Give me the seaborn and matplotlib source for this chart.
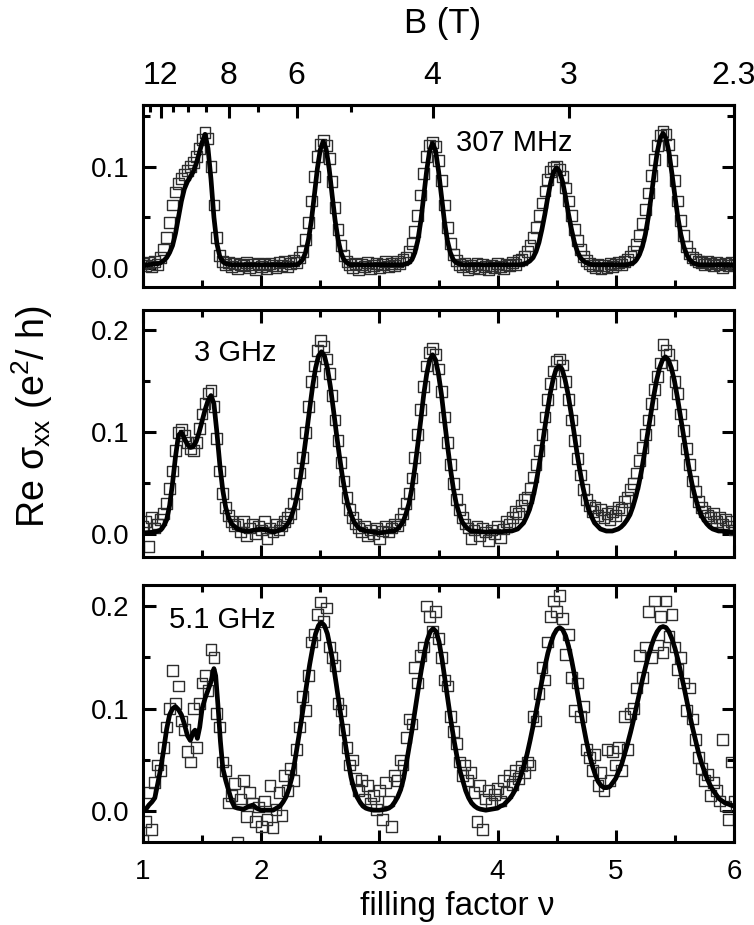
import numpy as np
import matplotlib
matplotlib.use("Agg")
import matplotlib.pyplot as plt
from matplotlib.ticker import MultipleLocator, FormatStrFormatter
import seaborn as sns

# filling factor of the measured points (same grid for the three frequencies)
nu_data = [
    1.000, 1.025, 1.050, 1.075, 1.100, 1.125, 1.150, 1.175, 1.200, 1.225,
    1.250, 1.275, 1.300, 1.325, 1.350, 1.375, 1.400, 1.425, 1.450, 1.475,
    1.500, 1.525, 1.550, 1.575, 1.600, 1.625, 1.650, 1.675, 1.700, 1.725,
    1.750, 1.775, 1.800, 1.825, 1.850, 1.875, 1.900, 1.925, 1.950, 1.975,
    2.000, 2.025, 2.050, 2.075, 2.100, 2.125, 2.150, 2.175, 2.200, 2.225,
    2.250, 2.275, 2.300, 2.325, 2.350, 2.375, 2.400, 2.425, 2.450, 2.475,
    2.500, 2.525, 2.550, 2.575, 2.600, 2.625, 2.650, 2.675, 2.700, 2.725,
    2.750, 2.775, 2.800, 2.825, 2.850, 2.875, 2.900, 2.925, 2.950, 2.975,
    3.000, 3.025, 3.050, 3.075, 3.100, 3.125, 3.150, 3.175, 3.200, 3.225,
    3.250, 3.275, 3.300, 3.325, 3.350, 3.375, 3.400, 3.425, 3.450, 3.475,
    3.500, 3.525, 3.550, 3.575, 3.600, 3.625, 3.650, 3.675, 3.700, 3.725,
    3.750, 3.775, 3.800, 3.825, 3.850, 3.875, 3.900, 3.925, 3.950, 3.975,
    4.000, 4.025, 4.050, 4.075, 4.100, 4.125, 4.150, 4.175, 4.200, 4.225,
    4.250, 4.275, 4.300, 4.325, 4.350, 4.375, 4.400, 4.425, 4.450, 4.475,
    4.500, 4.525, 4.550, 4.575, 4.600, 4.625, 4.650, 4.675, 4.700, 4.725,
    4.750, 4.775, 4.800, 4.825, 4.850, 4.875, 4.900, 4.925, 4.950, 4.975,
    5.000, 5.025, 5.050, 5.075, 5.100, 5.125, 5.150, 5.175, 5.200, 5.225,
    5.250, 5.275, 5.300, 5.325, 5.350, 5.375, 5.400, 5.425, 5.450, 5.475,
    5.500, 5.525, 5.550, 5.575, 5.600, 5.625, 5.650, 5.675, 5.700, 5.725,
    5.750, 5.775, 5.800, 5.825, 5.850, 5.875, 5.900, 5.925, 5.950, 5.975,
    6.000,
]

# Re sigma_xx (e^2/h), measured
sigma_307mhz = [
    0.004, 0.002, 0.005, 0.001, 0.006, 0.003, 0.010, 0.018, 0.030, 0.045,
    0.062, 0.075, 0.083, 0.088, 0.092, 0.096, 0.100, 0.104, 0.110, 0.118,
    0.127, 0.134, 0.128, 0.100, 0.062, 0.030, 0.012, 0.006, 0.003, 0.005,
    0.001, 0.004, -0.001, 0.003, 0.002, 0.005, 0.000, 0.003, -0.002, 0.004,
    0.001, 0.003, -0.001, 0.004, 0.002, 0.000, 0.005, 0.002, 0.006, 0.001,
    0.004, 0.007, 0.005, 0.010, 0.016, 0.028, 0.045, 0.066, 0.090, 0.110,
    0.122, 0.126, 0.121, 0.108, 0.085, 0.060, 0.038, 0.022, 0.012, 0.006,
    0.003, 0.000, 0.004, -0.002, 0.003, 0.001, 0.005, -0.001, 0.002, 0.004,
    0.000, 0.003, 0.006, 0.001, 0.004, 0.002, 0.006, 0.004, 0.008, 0.010,
    0.016, 0.024, 0.036, 0.052, 0.072, 0.093, 0.110, 0.121, 0.124, 0.120,
    0.106, 0.086, 0.062, 0.040, 0.024, 0.013, 0.007, 0.003, 0.001, 0.004,
    -0.002, 0.002, 0.000, 0.004, -0.001, 0.003, 0.001, -0.002, 0.002, 0.000,
    0.004, 0.001, -0.001, 0.003, 0.002, 0.005, 0.003, 0.007, 0.008, 0.011,
    0.016, 0.022, 0.030, 0.040, 0.052, 0.064, 0.076, 0.087, 0.095, 0.099,
    0.100, 0.097, 0.090, 0.079, 0.066, 0.052, 0.038, 0.027, 0.018, 0.011,
    0.007, 0.004, 0.002, 0.000, 0.003, -0.001, 0.002, 0.000, 0.004, 0.001,
    0.003, 0.005, 0.003, 0.006, 0.008, 0.011, 0.016, 0.023, 0.032, 0.044,
    0.058, 0.074, 0.091, 0.107, 0.121, 0.131, 0.135, 0.132, 0.122, 0.106,
    0.086, 0.066, 0.047, 0.032, 0.021, 0.014, 0.010, 0.008, 0.006, 0.005,
    0.003, 0.006, 0.004, 0.002, 0.005, 0.003, 0.000, 0.004, 0.002, 0.005,
    0.003,
]

sigma_3ghz = [
    0.008, 0.012, -0.012, 0.016, 0.006, 0.010, 0.014, 0.020, 0.030, 0.045,
    0.062, 0.082, 0.100, 0.103, 0.097, 0.090, 0.084, 0.082, 0.090, 0.104,
    0.118, 0.128, 0.138, 0.141, 0.125, 0.094, 0.062, 0.040, 0.026, 0.018,
    0.012, 0.008, 0.010, 0.002, 0.012, -0.002, 0.006, 0.010, 0.000, 0.008,
    0.004, 0.012, -0.004, 0.006, 0.002, 0.010, 0.004, 0.008, 0.012, 0.016,
    0.020, 0.030, 0.040, 0.060, 0.075, 0.100, 0.125, 0.150, 0.165, 0.180,
    0.190, 0.184, 0.172, 0.158, 0.136, 0.112, 0.092, 0.070, 0.052, 0.036,
    0.024, 0.016, 0.010, 0.006, 0.002, 0.008, -0.002, 0.004, 0.000, 0.006,
    -0.004, 0.003, 0.008, 0.002, 0.006, 0.010, 0.008, 0.014, 0.020, 0.030,
    0.040, 0.055, 0.075, 0.098, 0.122, 0.145, 0.165, 0.178, 0.182, 0.176,
    0.162, 0.140, 0.115, 0.090, 0.068, 0.050, 0.034, 0.024, 0.016, 0.010,
    0.006, -0.004, 0.004, 0.008, -0.002, 0.006, 0.002, -0.006, 0.004, 0.000,
    0.008, -0.003, 0.005, 0.012, 0.010, 0.016, 0.022, 0.020, 0.028, 0.034,
    0.036, 0.045, 0.056, 0.068, 0.082, 0.098, 0.115, 0.132, 0.148, 0.160,
    0.170, 0.172, 0.166, 0.150, 0.132, 0.112, 0.092, 0.074, 0.058, 0.044,
    0.034, 0.028, 0.022, 0.026, 0.018, 0.024, 0.016, 0.020, 0.014, 0.022,
    0.018, 0.026, 0.024, 0.032, 0.036, 0.044, 0.050, 0.060, 0.072, 0.085,
    0.098, 0.112, 0.128, 0.142, 0.155, 0.168, 0.186, 0.180, 0.176, 0.166,
    0.150, 0.138, 0.118, 0.102, 0.084, 0.068, 0.052, 0.042, 0.032, 0.026,
    0.022, 0.018, 0.016, 0.020, 0.012, 0.016, 0.010, 0.014, 0.008, 0.012,
    0.004,
]

sigma_51ghz = [
    -0.028, -0.010, 0.018, -0.018, 0.028, 0.045, 0.040, 0.062, 0.082, 0.100,
    0.137, 0.105, 0.122, 0.088, 0.080, 0.058, 0.048, 0.100, 0.062, 0.105,
    0.125, 0.132, 0.118, 0.158, 0.150, 0.095, 0.082, 0.048, 0.040, 0.008,
    0.015, 0.027, -0.030, 0.012, 0.030, -0.005, 0.018, 0.008, -0.010, 0.004,
    -0.015, 0.010, -0.008, 0.025, -0.016, 0.002, 0.018, -0.004, 0.035, 0.020,
    0.042, 0.030, 0.060, 0.082, 0.112, 0.098, 0.132, 0.165, 0.172, 0.192,
    0.204, 0.185, 0.198, 0.160, 0.150, 0.142, 0.105, 0.098, 0.080, 0.062,
    0.045, 0.050, 0.032, 0.020, 0.030, 0.012, 0.025, 0.008, 0.015, 0.002,
    0.020, -0.008, 0.028, 0.010, -0.015, 0.035, 0.030, 0.050, 0.045, 0.072,
    0.090, 0.085, 0.140, 0.125, 0.152, 0.160, 0.200, 0.190, 0.175, 0.195,
    0.168, 0.150, 0.128, 0.122, 0.092, 0.078, 0.066, 0.048, 0.035, 0.045,
    0.030, 0.038, 0.018, -0.010, 0.025, -0.018, 0.012, 0.020, 0.008, 0.016,
    0.022, 0.010, 0.030, 0.018, 0.035, 0.026, 0.040, 0.032, 0.044, 0.038,
    0.048, 0.045, 0.092, 0.088, 0.115, 0.140, 0.128, 0.165, 0.190, 0.205,
    0.195, 0.210, 0.188, 0.153, 0.172, 0.130, 0.098, 0.125, 0.092, 0.102,
    0.060, 0.052, 0.040, 0.055, 0.025, 0.038, 0.020, 0.060, 0.030, 0.058,
    0.045, 0.062, 0.040, 0.092, 0.060, 0.095, 0.100, 0.120, 0.152, 0.130,
    0.160, 0.195, 0.150, 0.205, 0.162, 0.190, 0.155, 0.205, 0.170, 0.192,
    0.160, 0.138, 0.150, 0.125, 0.098, 0.120, 0.090, 0.070, 0.052, 0.042,
    0.030, 0.036, 0.015, 0.028, 0.020, 0.010, 0.070, 0.005, -0.008, 0.048,
    0.010,
]

# fitted curves, (nu, Re sigma_xx) points
fit_307mhz = [
    (1.000, 0.003), (1.050, 0.003), (1.100, 0.004), (1.125, 0.004), (1.150, 0.005),
    (1.175, 0.007), (1.200, 0.010), (1.225, 0.015), (1.250, 0.022), (1.275, 0.034),
    (1.300, 0.050), (1.325, 0.066), (1.350, 0.078), (1.375, 0.085), (1.400, 0.090),
    (1.425, 0.095), (1.450, 0.103), (1.475, 0.113), (1.500, 0.124), (1.525, 0.132),
    (1.550, 0.118), (1.575, 0.088), (1.600, 0.050), (1.625, 0.024), (1.650, 0.011),
    (1.675, 0.006), (1.700, 0.004), (1.750, 0.003), (1.900, 0.003), (2.100, 0.003),
    (2.300, 0.003), (2.325, 0.005), (2.350, 0.008), (2.375, 0.015), (2.400, 0.028),
    (2.425, 0.047), (2.450, 0.072), (2.475, 0.098), (2.500, 0.117), (2.525, 0.125),
    (2.550, 0.117), (2.575, 0.098), (2.600, 0.072), (2.625, 0.047), (2.650, 0.028),
    (2.675, 0.015), (2.700, 0.008), (2.725, 0.005), (2.750, 0.003), (3.000, 0.003),
    (3.200, 0.003), (3.225, 0.004), (3.250, 0.005), (3.275, 0.008), (3.300, 0.015),
    (3.325, 0.027), (3.350, 0.046), (3.375, 0.071), (3.400, 0.096), (3.425, 0.116),
    (3.450, 0.123), (3.475, 0.116), (3.500, 0.096), (3.525, 0.071), (3.550, 0.046),
    (3.575, 0.027), (3.600, 0.015), (3.625, 0.008), (3.650, 0.005), (3.675, 0.004),
    (3.700, 0.003), (4.000, 0.003), (4.200, 0.003), (4.225, 0.004), (4.250, 0.005),
    (4.275, 0.007), (4.300, 0.010), (4.325, 0.016), (4.350, 0.025), (4.375, 0.038),
    (4.400, 0.053), (4.425, 0.070), (4.450, 0.085), (4.475, 0.095), (4.500, 0.099),
    (4.525, 0.095), (4.550, 0.085), (4.575, 0.070), (4.600, 0.053), (4.625, 0.038),
    (4.650, 0.025), (4.675, 0.016), (4.700, 0.010), (4.725, 0.007), (4.750, 0.005),
    (4.775, 0.004), (4.800, 0.003), (5.000, 0.003), (5.100, 0.003), (5.125, 0.004),
    (5.150, 0.005), (5.175, 0.008), (5.200, 0.013), (5.225, 0.021), (5.250, 0.033),
    (5.275, 0.050), (5.300, 0.071), (5.325, 0.093), (5.350, 0.114), (5.375, 0.128),
    (5.400, 0.133), (5.425, 0.128), (5.450, 0.114), (5.475, 0.093), (5.500, 0.071),
    (5.525, 0.050), (5.550, 0.033), (5.575, 0.021), (5.600, 0.013), (5.625, 0.008),
    (5.650, 0.005), (5.675, 0.004), (5.700, 0.003), (6.000, 0.003),
]

fit_3ghz = [
    (1.000, 0.001), (1.100, 0.002), (1.150, 0.004), (1.175, 0.008), (1.200, 0.014),
    (1.225, 0.028), (1.250, 0.050), (1.275, 0.076), (1.300, 0.097), (1.325, 0.100),
    (1.350, 0.094), (1.375, 0.088), (1.400, 0.085), (1.425, 0.086), (1.450, 0.091),
    (1.475, 0.100), (1.500, 0.111), (1.525, 0.122), (1.550, 0.131), (1.575, 0.136),
    (1.600, 0.128), (1.625, 0.100), (1.650, 0.068), (1.675, 0.043), (1.700, 0.026),
    (1.725, 0.016), (1.750, 0.010), (1.800, 0.005), (1.850, 0.003), (1.900, 0.003),
    (1.950, 0.004), (2.000, 0.005), (2.050, 0.004), (2.100, 0.002), (2.135, 0.003),
    (2.160, 0.004), (2.185, 0.005), (2.210, 0.008), (2.235, 0.012), (2.260, 0.019),
    (2.285, 0.028), (2.310, 0.041), (2.335, 0.058), (2.360, 0.078), (2.385, 0.100),
    (2.410, 0.123), (2.435, 0.145), (2.460, 0.163), (2.485, 0.175), (2.510, 0.179),
    (2.535, 0.175), (2.560, 0.163), (2.585, 0.145), (2.610, 0.123), (2.635, 0.100),
    (2.660, 0.078), (2.685, 0.058), (2.710, 0.041), (2.735, 0.028), (2.760, 0.019),
    (2.785, 0.012), (2.810, 0.008), (2.835, 0.005), (2.860, 0.004), (2.885, 0.003),
    (2.950, 0.002), (3.000, 0.001), (3.050, 0.002), (3.100, 0.003), (3.125, 0.003),
    (3.150, 0.005), (3.175, 0.008), (3.200, 0.012), (3.225, 0.020), (3.250, 0.030),
    (3.275, 0.045), (3.300, 0.065), (3.325, 0.088), (3.350, 0.112), (3.375, 0.137),
    (3.400, 0.157), (3.425, 0.171), (3.450, 0.176), (3.475, 0.171), (3.500, 0.157),
    (3.525, 0.137), (3.550, 0.112), (3.575, 0.088), (3.600, 0.065), (3.625, 0.045),
    (3.650, 0.030), (3.675, 0.020), (3.700, 0.012), (3.725, 0.008), (3.750, 0.005),
    (3.775, 0.003), (3.800, 0.003), (3.900, 0.002), (4.000, 0.002), (4.100, 0.003),
    (4.120, 0.003), (4.145, 0.004), (4.170, 0.005), (4.195, 0.008), (4.220, 0.011),
    (4.245, 0.017), (4.270, 0.024), (4.295, 0.034), (4.320, 0.047), (4.345, 0.063),
    (4.370, 0.081), (4.395, 0.101), (4.420, 0.120), (4.445, 0.138), (4.470, 0.152),
    (4.495, 0.162), (4.520, 0.165), (4.545, 0.162), (4.570, 0.152), (4.595, 0.138),
    (4.620, 0.120), (4.645, 0.101), (4.670, 0.081), (4.695, 0.063), (4.720, 0.047),
    (4.745, 0.034), (4.770, 0.024), (4.795, 0.017), (4.820, 0.011), (4.845, 0.008),
    (4.870, 0.005), (4.895, 0.004), (4.920, 0.003), (4.945, 0.003), (4.970, 0.003),
    (4.995, 0.004), (5.020, 0.005), (5.045, 0.007), (5.070, 0.010), (5.095, 0.014),
    (5.120, 0.019), (5.145, 0.027), (5.170, 0.037), (5.195, 0.049), (5.220, 0.064),
    (5.245, 0.081), (5.270, 0.099), (5.295, 0.117), (5.320, 0.135), (5.345, 0.151),
    (5.370, 0.163), (5.395, 0.171), (5.420, 0.174), (5.445, 0.171), (5.470, 0.163),
    (5.495, 0.151), (5.520, 0.135), (5.545, 0.117), (5.570, 0.099), (5.595, 0.081),
    (5.620, 0.064), (5.645, 0.049), (5.670, 0.037), (5.695, 0.027), (5.720, 0.019),
    (5.745, 0.014), (5.770, 0.010), (5.795, 0.007), (5.820, 0.005), (5.845, 0.004),
    (5.870, 0.003), (5.900, 0.003), (5.950, 0.002), (6.000, 0.002),
]

fit_51ghz = [
    (1.000, 0.000), (1.025, 0.002), (1.050, 0.006), (1.075, 0.009), (1.100, 0.013),
    (1.125, 0.027), (1.150, 0.042), (1.175, 0.060), (1.200, 0.080), (1.225, 0.094),
    (1.250, 0.100), (1.275, 0.102), (1.300, 0.099), (1.325, 0.094), (1.350, 0.085),
    (1.375, 0.074), (1.400, 0.069), (1.425, 0.077), (1.440, 0.079), (1.460, 0.071),
    (1.480, 0.082), (1.500, 0.100), (1.525, 0.110), (1.550, 0.118), (1.575, 0.126),
    (1.600, 0.139), (1.615, 0.132), (1.635, 0.102), (1.655, 0.068), (1.675, 0.042),
    (1.700, 0.030), (1.725, 0.020), (1.750, 0.010), (1.775, 0.004), (1.800, 0.003),
    (1.850, 0.002), (1.900, 0.005), (1.930, 0.006), (1.960, 0.003), (2.000, 0.001),
    (2.100, 0.001), (2.160, 0.005), (2.185, 0.009), (2.210, 0.014), (2.235, 0.022),
    (2.260, 0.033), (2.285, 0.049), (2.310, 0.067), (2.335, 0.085), (2.360, 0.104),
    (2.385, 0.124), (2.410, 0.143), (2.435, 0.159), (2.460, 0.173), (2.485, 0.181),
    (2.510, 0.184), (2.535, 0.181), (2.560, 0.173), (2.585, 0.159), (2.610, 0.143),
    (2.635, 0.124), (2.660, 0.104), (2.685, 0.085), (2.710, 0.067), (2.735, 0.049),
    (2.760, 0.033), (2.785, 0.022), (2.810, 0.014), (2.835, 0.009), (2.860, 0.005),
    (2.885, 0.003), (2.910, 0.002), (2.950, 0.001), (3.000, 0.001), (3.055, 0.002),
    (3.080, 0.003), (3.105, 0.005), (3.130, 0.009), (3.155, 0.014), (3.180, 0.021),
    (3.205, 0.032), (3.230, 0.048), (3.255, 0.065), (3.280, 0.082), (3.305, 0.101),
    (3.330, 0.120), (3.355, 0.138), (3.380, 0.154), (3.405, 0.167), (3.430, 0.175),
    (3.455, 0.178), (3.480, 0.175), (3.505, 0.165), (3.530, 0.148), (3.555, 0.128),
    (3.580, 0.108), (3.605, 0.088), (3.630, 0.070), (3.655, 0.054), (3.680, 0.040),
    (3.705, 0.030), (3.730, 0.020), (3.755, 0.013), (3.780, 0.008), (3.805, 0.005),
    (3.830, 0.003), (3.855, 0.002), (3.900, 0.001), (3.950, 0.002), (4.000, 0.003),
    (4.025, 0.005), (4.050, 0.006), (4.075, 0.009), (4.100, 0.012), (4.125, 0.016),
    (4.150, 0.021), (4.175, 0.028), (4.200, 0.036), (4.225, 0.045), (4.250, 0.056),
    (4.275, 0.069), (4.300, 0.083), (4.325, 0.097), (4.350, 0.112), (4.375, 0.127),
    (4.400, 0.141), (4.425, 0.154), (4.450, 0.164), (4.475, 0.172), (4.500, 0.177),
    (4.525, 0.179), (4.550, 0.177), (4.575, 0.171), (4.600, 0.161), (4.625, 0.148),
    (4.650, 0.133), (4.675, 0.116), (4.700, 0.100), (4.725, 0.084), (4.750, 0.069),
    (4.775, 0.056), (4.800, 0.045), (4.825, 0.036), (4.850, 0.029), (4.875, 0.025),
    (4.900, 0.023), (4.925, 0.023), (4.950, 0.024), (4.975, 0.028), (5.000, 0.032),
    (5.025, 0.039), (5.050, 0.046), (5.075, 0.056), (5.100, 0.066), (5.125, 0.077),
    (5.150, 0.089), (5.175, 0.102), (5.200, 0.115), (5.225, 0.128), (5.250, 0.140),
    (5.275, 0.151), (5.300, 0.161), (5.325, 0.169), (5.350, 0.175), (5.375, 0.179),
    (5.400, 0.180), (5.425, 0.179), (5.450, 0.175), (5.475, 0.168), (5.500, 0.159),
    (5.525, 0.148), (5.550, 0.135), (5.575, 0.122), (5.600, 0.108), (5.625, 0.094),
    (5.650, 0.081), (5.675, 0.069), (5.700, 0.057), (5.725, 0.047), (5.750, 0.039),
    (5.775, 0.031), (5.800, 0.025), (5.825, 0.020), (5.850, 0.016), (5.875, 0.012),
    (5.900, 0.010), (5.925, 0.008), (5.950, 0.007), (5.975, 0.006), (6.000, 0.005),
]

freq_labels = ["307 MHz", "3 GHz", "5.1 GHz"]
label_pos = [(3.65, 0.123), (1.43, 0.178), (1.22, 0.186)]
y_limits = [(-0.019, 0.161), (-0.0225, 0.22), (-0.030, 0.2205)]

# top axis: magnetic field, nu * B = const
NU_B = 13.8
b_major = [12, 8, 6, 4, 3, 2.3]
b_major_labels = ["12", "8", "6", "4", "3", "2.3"]
b_minor = [13, 11, 10, 9, 7, 5]


def nu_to_b(x):
    x = np.asarray(x, dtype=float)
    with np.errstate(divide="ignore", invalid="ignore"):
        return NU_B / x


sns.set_theme(style="ticks", rc={
    "axes.edgecolor": "black",
    "axes.linewidth": 2.2,
    "xtick.color": "black",
    "ytick.color": "black",
    "text.color": "black",
    "axes.labelcolor": "black",
})
plt.rcParams["font.family"] = ["Liberation Sans", "DejaVu Sans"]

fig = plt.figure(figsize=(7.54, 9.25), dpi=100)
left, width = 143 / 754, 591 / 754
# bottoms / heights in figure fraction for the three panels (top to bottom)
boxes = [(1 - 287 / 925, 182 / 925), (1 - 557 / 925, 247 / 925), (1 - 842 / 925, 257 / 925)]

series = [(sigma_307mhz, fit_307mhz), (sigma_3ghz, fit_3ghz), (sigma_51ghz, fit_51ghz)]

for i, ((meas, fit), (bottom, height)) in enumerate(zip(series, boxes)):
    ax = fig.add_axes([left, bottom, width, height])

    sns.scatterplot(x=nu_data, y=meas, ax=ax, marker="s", s=60,
                    facecolor="none", edgecolor="#2e2e2e", linewidth=1.0,
                    zorder=2, legend=False)
    fx, fy = zip(*fit)
    sns.lineplot(x=list(fx), y=list(fy), ax=ax, color="black", linewidth=3.4,
                 estimator=None, sort=False, zorder=3, legend=False)

    ax.set_xlim(1, 6)
    ax.set_ylim(*y_limits[i])
    ax.xaxis.set_major_locator(MultipleLocator(1))
    ax.xaxis.set_minor_locator(MultipleLocator(0.5))
    ax.yaxis.set_major_locator(MultipleLocator(0.1))
    ax.yaxis.set_minor_locator(MultipleLocator(0.05))
    ax.yaxis.set_major_formatter(FormatStrFormatter("%.1f"))
    ax.set_xlabel("")
    ax.set_ylabel("")

    ax.tick_params(which="both", direction="in", width=2.2, right=True,
                   top=(i > 0), labelsize=20)
    ax.tick_params(which="major", length=9)
    ax.tick_params(which="minor", length=5)
    ax.tick_params(axis="y", pad=10)
    ax.tick_params(axis="x", pad=12)
    if i < 2:
        ax.tick_params(axis="x", labelbottom=False)
    for sp in ax.spines.values():
        sp.set_linewidth(2.2)

    ax.text(label_pos[i][0], label_pos[i][1], freq_labels[i], fontsize=21,
            ha="left", va="center")

    if i == 0:
        sec = ax.secondary_xaxis("top", functions=(nu_to_b, nu_to_b))
        sec.set_xticks(b_major, labels=b_major_labels)
        sec.set_xticks(b_minor, minor=True)
        sec.tick_params(which="both", direction="in", width=2.2, labelsize=23, pad=10)
        sec.tick_params(which="major", length=9)
        sec.tick_params(which="minor", length=5)
        for sp in sec.spines.values():
            sp.set_linewidth(2.2)

fig.text(443 / 754, 1 - 23 / 925, "B (T)", fontsize=25, ha="center", va="center")
fig.text(457 / 754, 1 - 907 / 925, "filling factor ν", fontsize=24,
         ha="center", va="center")
fig.text(0.043, 1 - 417 / 925, r"Re σ$_{\mathregular{xx}}$ (e$^{\mathregular{2}}$/ h)",
         fontsize=27, rotation=90, ha="center", va="center")

fig.savefig("out.png", dpi=100)
